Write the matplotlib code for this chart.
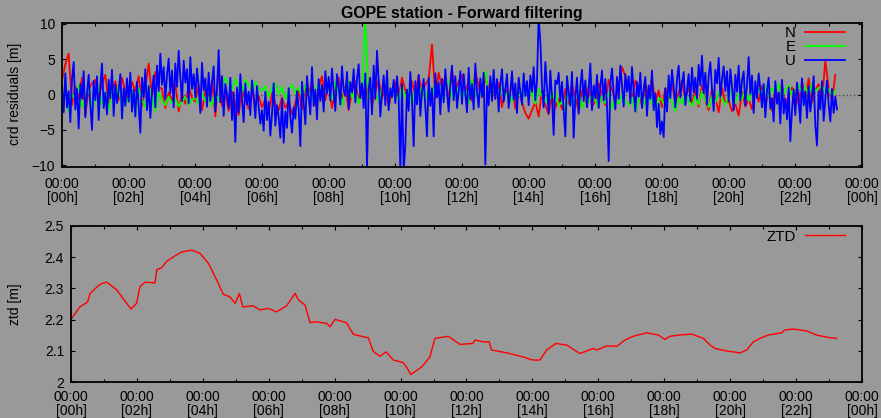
import numpy as np
import matplotlib.pyplot as plt
from matplotlib.ticker import MultipleLocator, FormatStrFormatter

# coordinate residuals [m]; U sampled every 0.05 h, N and E every 0.1 h (from 00h)
resid_u = [
    1.2, -2.5, 3.0, -1.8, 0.5, -3.9, 2.2, 4.6, -2.1, 0.8, -4.8, 1.5, -0.6, 3.3, -3.2, 0.2, 2.8, -1.4, -5.0, 1.9,
    -0.8, 2.6, -3.6, 1.1, 4.4, -1.9, 0.3, -2.8, 2.1, -0.5, 3.5, -3.0, 1.4, -1.2, 0.6, 2.9, -3.4, 0.9, -1.6, 2.3,
    -1.0, 3.1, -2.4, 0.7, -3.1, 1.8, -1.5, -5.4, 2.4, -0.3, 3.6, -2.2, 1.2, -3.3, 0.4, 2.7, -1.8, 4.1, 0.5, 5.8,
    1.4, 3.9, -0.6, 2.8, 5.1, 0.2, 3.4, -1.8, 4.4, 1.1, 6.2, 2.5, -0.9, 4.8, 1.7, 3.6, -1.2, 5.3, 0.8, 2.9,
    -0.4, 3.7, 1.2, -2.6, 4.5, 0.6, 2.3, -1.7, 3.1, -0.9, 1.8, 4.0, -2.4, 0.9, 6.3, -1.1, 2.6, -3.0, 1.5, 0.1,
    -1.9, 2.4, -3.6, 0.3, -6.7, 1.0, -2.5, 2.9, -0.8, -3.9, 1.6, -1.4, 0.4, -2.9, 2.0, -0.2, -3.3, 1.2, -1.7, -4.1,
    -2.2, -5.1, 0.4, -3.6, -1.0, -5.8, -2.7, 1.6, -4.4, -1.5, -3.2, -6.1, -0.6, -6.8, -2.4, -4.7, 0.9, -3.1, -5.4, -1.8,
    -3.4, 0.5, -2.0, -7.3, 1.8, -1.1, -4.2, 2.6, -0.3, -2.8, 3.9, -1.6, 0.7, -3.5, 2.2, -0.9, 1.4, -2.4, 3.3, 0.2,
    2.5, -0.8, 3.7, 0.4, -2.3, 2.9, 1.1, -1.4, 4.0, 0.6, -0.2, 3.2, -2.0, 1.8, 0.3, 3.6, -1.1, 2.2, 4.3, -0.5,
    1.6, -1.9, 3.0, -10.5, 0.8, 2.4, -2.8, 4.1, -0.6, 6.2, 1.9, -3.1, 0.2, 2.7, -1.5, 3.4, -2.2, 0.9, -0.4, 2.1,
    -1.2, 2.6, -0.5, -10.8, 1.5, -11.0, -7.1, 0.7, -2.3, 3.2, -0.8, -7.3, 1.9, -1.4, 2.8, -3.0, 0.4, 2.2, -1.7, -5.9,
    2.4, -1.6, 0.9, -5.9, 3.0, -0.4, 1.7, -2.8, 2.2, -1.1, 3.6, 0.3, -2.4, 1.4, 4.1, -0.8, 2.6, -1.9, 0.5, 3.3,
    -1.3, 2.9, 0.2, -2.5, 3.8, -0.7, 1.5, -2.1, 4.4, 0.4, -1.8, 2.3, -0.3, 3.1, -9.9, 1.2, -1.5, 2.6, -0.9, 3.5,
    -0.6, 2.2, -2.4, 1.4, 3.6, -1.0, 0.8, 2.9, -1.9, 0.3, 3.3, -0.7, 1.6, -2.6, 2.4, 0.5, -1.4, 3.0, -0.2, 1.9,
    -1.5, 2.7, 0.4, 3.9, -0.8, 2.1, 11.0, 7.5, 1.2, -1.8, 4.6, 0.9, -2.6, 3.4, -0.4, -5.7, 2.0, 1.5, 3.1, -0.9,
    1.8, -2.3, -5.9, 2.6, 0.3, -1.6, 3.2, -6.1, -0.4, 2.4, -2.7, 1.1, 3.5, -0.9, 2.0, -1.8, 0.7, 4.4, -2.2, 1.3,
    -0.5, 2.8, -1.9, 1.0, 3.4, -0.8, 2.2, -1.4, -9.4, 1.6, 3.7, 0.2, -2.1, 2.5, -0.6, 4.1, 1.3, -1.7, 2.9, 0.4,
    2.6, -1.2, 3.9, 0.5, -2.4, 1.8, -0.3, 3.1, -1.9, 0.8, 2.5, -3.0, 1.3, -0.6, 3.4, -2.2, 0.2, -4.6, -1.3, -5.6,
    -3.8, -6.0, 0.9, -2.4, 2.7, -0.5, 3.5, 1.1, -1.8, 2.2, 4.1, -0.4, 1.6, 3.2, -1.5, 0.7, 2.9, -0.9, 3.8, 0.3,
    2.4, -0.6, 4.2, 1.3, 5.5, 0.2, 3.1, -1.4, 2.7, 4.6, 0.8, -2.3, 3.5, 1.6, 5.2, -0.3, 2.2, 4.0, 0.5, 3.3,
    -1.0, 3.6, 1.2, -2.2, 2.8, 0.4, 4.1, -0.8, 2.0, 3.3, -1.5, 1.4, 5.3, 0.1, 2.7, -2.6, 1.9, -0.5, 3.0, 0.8,
    -1.8, 1.5, -3.2, 0.6, 2.4, -2.0, -0.5, -3.8, 1.9, -1.3, 0.3, -4.1, 2.1, -2.7, -0.6, -3.5, 1.0, -6.6, -2.2, 0.7,
    -2.9, 1.7, -0.8, -4.0, 2.3, -1.5, 0.4, -3.3, 1.2, -2.4, -0.2, 2.6, -4.4, -7.2, 0.5, -2.1, 1.9, -3.7, -0.6, 2.0,
    -1.4, -3.8, 0.8, -2.6, -0.3, -2.1,
]
resid_n = [
    2.0, 4.3, 5.8, -1.5, 1.2, -0.6, 2.4, -2.9, 0.8, 1.6,
    2.1, -0.4, 1.5, 2.8, -1.2, 0.6, 1.9, -0.8, 2.4, 0.3,
    -0.9, 1.8, 0.5, 2.6, -1.6, 0.9, 4.4, -0.3, 3.2, 1.1,
    0.8, -1.9, 0.3, -0.8, 1.5, -2.4, 0.1, -1.3, 1.2, -0.5,
    -1.0, 1.4, -2.2, 0.6, -0.4, 1.9, -3.1, 3.7, -1.6, 0.2,
    -2.3, 0.4, -1.4, -2.9, 0.9, -0.7, -2.0, 0.3, -1.5, -0.2,
    -1.8, -0.6, -2.6, 0.2, -1.3, -2.2, -0.4, -1.9, -0.9, -2.8,
    -1.2, 0.6, -2.1, 1.3, -0.4, 2.1, -1.5, 0.9, 2.6, -0.8,
    1.6, -1.9, 0.8, 2.4, -0.6, 1.2, -2.2, 0.5, 1.9, -1.0,
    1.1, -0.9, 2.3, -1.6, 0.4, 2.1, -0.5, 1.5, -1.8, 0.7,
    1.8, -0.4, 2.4, 0.6, -1.1, 1.9, -0.2, 2.7, 0.3, 1.4,
    2.2, 7.1, -0.5, 3.1, 1.0, 2.6, -0.8, 3.4, 0.7, 1.9,
    2.8, 0.3, 2.1, -0.9, 3.3, 1.2, -0.4, 2.5, 0.8, 1.6,
    -0.6, 1.7, -1.8, 0.9, -0.3, 1.4, -2.0, 0.4, -1.1, -2.6,
    -3.4, -2.2, -1.0, -3.1, 0.6, -1.4, -2.8, 0.2, -1.9, -0.6,
    -2.1, 0.8, -1.3, 1.5, -0.4, -2.3, 0.6, -1.0, 1.2, -1.7,
    -0.9, 1.6, 0.2, -1.5, 2.1, 0.7, -0.8, 1.3, 3.9, 2.6,
    1.1, -0.7, 2.0, 0.4, -1.6, 1.5, -0.3, 2.2, -1.1, 0.6,
    -1.8, 0.9, -0.5, 1.6, -1.2, 0.3, 2.0, -0.8, 1.1, -1.4,
    0.6, -1.7, 1.3, -0.9, -2.2, 0.8, -0.4, -2.5, 1.0, -1.3,
    -0.8, -2.4, -1.3, -3.0, 0.4, -1.7, -0.6, -2.1, 0.9, -1.0,
    1.2, -1.5, 0.3, -2.3, 0.8, -0.9, 1.6, -1.8, -0.2, 1.0,
    0.4, -1.4, 1.9, -0.6, 2.3, -1.1, 0.7, 1.5, -0.8, 4.8,
    0.9, -0.9, 2.8,
]
resid_e = [
    -1.2, 0.8, -2.4, 0.2, -0.9, 1.4, -1.8, -0.4, 0.9, -2.1,
    -0.3, 1.1, -1.5, 0.4, -2.2, 0.7, -0.8, 1.3, -1.9, -0.2,
    -1.1, 0.5, -2.6, 0.9, -0.7, -1.8, 1.2, -0.4, -2.3, 0.3,
    -0.8, -1.5, -0.3, -1.2, -0.6, -1.7, -0.9, -0.4, -1.4, -0.7,
    -0.5, -1.3, 0.2, -1.0, -0.3, -1.6, 0.4, -0.8, 1.2, 2.4,
    1.4, 0.6, 2.3, 1.0, 0.3, 2.1, 1.5, 0.4, 1.8, 0.9,
    0.5, 1.2, -0.3, 0.9, 1.6, 0.1, 1.1, -0.6, 0.7, 1.4,
    0.2, 1.0, -0.5, 1.3, 0.4, -0.9, 0.8, 1.5, -0.2, 0.6,
    1.1, -0.7, 1.7, 0.3, -1.5, 0.9, 1.9, -0.4, 0.6, -1.2,
    0.4, 10.5, -0.8, 1.2, 0.2, -1.1, 0.9, 1.6, -0.5, 0.7,
    0.1, -0.9, 1.3, -0.4, 0.6, -1.3, 0.8, -0.2, 1.1, -0.7,
    0.9, -0.3, 1.6, 0.2, -0.8, 1.2, 2.0, -0.5, 0.4, 1.0,
    -0.6, 0.7, -1.2, 2.1, 0.3, -0.9, 1.4, 3.3, -0.4, 0.5,
    0.8, -0.7, 1.1, -0.2, 0.5, -1.0, 0.9, 0.1, -0.6, 1.3,
    -0.4, 0.6, -1.3, 0.8, -0.2, -1.1, 0.3, -0.8, 0.5, -1.6,
    -0.9, -2.3, 0.2, -1.4, -0.5, 0.4, -1.9, -0.3, -1.1, 0.1,
    -0.8, -1.7, -0.2, -1.2, 0.3, -2.0, -0.6, -1.3, 0.1, -0.9,
    -1.5, -0.4, -2.4, -0.8, 0.2, -1.6, -0.3, -1.1, -2.1, -0.5,
    -0.7, -1.9, 0.1, -1.0, -2.3, -0.4, -1.3, 0.3, -0.9, -1.6,
    -0.2, -1.4, 0.5, -0.8, -1.8, -0.1, -1.1, 0.4, -0.6, -1.5,
    -0.3, 0.6, -1.2, 0.2, -0.7, 1.0, -0.9, 0.4, -0.2, 0.8,
    0.3, 1.2, -0.4, 0.9, 0.1, 1.5, -0.6, 0.7, 1.3, -0.1,
    0.6, 1.4, 0.2, 1.1, -0.3, 1.6, 0.5, 0.9, 1.3, 0.2,
    0.8, -0.2, 0.6,
]

# zenith total delay [m] at hour of day
ztd_hour = [0.02, 0.27, 0.5, 0.58, 0.88, 1.08, 1.39, 1.69, 1.82, 1.99, 2.09, 2.25, 2.55, 2.6,
            2.75, 2.9, 3.16, 3.36, 3.66, 3.91, 4.17, 4.42, 4.62, 4.82, 4.98, 5.11, 5.21, 5.53,
            5.73, 5.99, 6.24, 6.54, 6.8, 6.9, 7.1, 7.25, 7.45, 7.76, 7.86, 8.01, 8.36, 8.57,
            9.02, 9.17, 9.37, 9.56, 9.78, 10.08, 10.18, 10.31, 10.64, 10.89, 11.04, 11.45,
            11.8, 12.19, 12.26, 12.51, 12.69, 12.76, 13.22, 13.72, 14.01, 14.23, 14.43, 14.71,
            15.04, 15.44, 15.85, 15.95, 16.25, 16.56, 16.81, 17.06, 17.47, 17.82, 18.02, 18.17,
            18.48, 18.83, 19.19, 19.39, 19.54, 19.9, 20.3, 20.5, 20.7, 20.9, 21.16, 21.56,
            21.66, 21.91, 22.32, 22.62, 22.98, 23.23]
ztd_val = [2.204, 2.241, 2.256, 2.284, 2.313, 2.32, 2.295, 2.252, 2.234, 2.252, 2.305, 2.32,
           2.317, 2.359, 2.366, 2.386, 2.404, 2.416, 2.422, 2.412, 2.38, 2.327, 2.281, 2.273,
           2.252, 2.284, 2.241, 2.244, 2.231, 2.236, 2.225, 2.244, 2.284, 2.263, 2.247, 2.191,
           2.193, 2.188, 2.177, 2.201, 2.19, 2.153, 2.142, 2.099, 2.083, 2.097, 2.071, 2.063,
           2.049, 2.025, 2.049, 2.081, 2.14, 2.147, 2.121, 2.124, 2.135, 2.129, 2.129, 2.103,
           2.094, 2.081, 2.071, 2.071, 2.103, 2.124, 2.119, 2.092, 2.108, 2.103, 2.116, 2.115,
           2.135, 2.147, 2.158, 2.151, 2.137, 2.147, 2.151, 2.154, 2.14, 2.119, 2.108, 2.1,
           2.094, 2.103, 2.129, 2.14, 2.151, 2.158, 2.167, 2.17, 2.164, 2.151, 2.143, 2.14]

hour_ticks = list(range(0, 25, 2))
hour_labels = ['00:00\n[%02dh]' % (h % 24) for h in hour_ticks]

bg = '#999999'
plt.rcParams['font.family'] = ['Liberation Sans', 'DejaVu Sans']
plt.rcParams['font.size'] = 10.0

t_u = np.arange(len(resid_u)) * 0.05
t_n = np.arange(len(resid_n)) * 0.1
t_e = np.arange(len(resid_e)) * 0.1

fig = plt.figure(figsize=(8.81, 4.18), dpi=100, facecolor=bg)
ax1 = fig.add_axes([62 / 881, 1 - 166.7 / 418, 800 / 881, 144.2 / 418], facecolor=bg)
ax2 = fig.add_axes([71 / 881, 1 - 382.3 / 418, 791 / 881, 156.6 / 418], facecolor=bg)

ax1.axhline(0, color='#4d4d4d', ls=':', lw=1.0, zorder=1)
ax1.plot(t_n, resid_n, color='#ff0000', lw=1.3, label='N')
ax1.plot(t_e, resid_e, color='#00ff00', lw=1.3, label='E')
ax1.plot(t_u, resid_u, color='#0000ff', lw=1.3, label='U')
ax1.set_ylim(-10.2, 10.2)
ax1.set_yticks([-10, -5, 0, 5, 10])

ax2.plot(ztd_hour, ztd_val, color='#ff0000', lw=1.0, label='ZTD')
ax2.set_ylim(2.0, 2.5)
ax2.set_yticks([2.0, 2.1, 2.2, 2.3, 2.4, 2.5])
ax2.yaxis.set_major_formatter(FormatStrFormatter('%g'))

for ax in (ax1, ax2):
    ax.set_xlim(0, 24)
    ax.set_xticks(hour_ticks)
    ax.set_xticklabels(hour_labels, linespacing=1.0)
    ax.xaxis.set_minor_locator(MultipleLocator(1))
    ax.tick_params(which='both', direction='in', top=True, right=True, width=0.8, colors='black')
    ax.tick_params(which='major', length=3.0)
    ax.tick_params(which='minor', length=2.0)
    ax.tick_params(axis='y', pad=5)
    for s in ax.spines.values():
        s.set_linewidth(1.3)
    ax.legend(loc='upper right', bbox_to_anchor=(0.979, 0.975), frameon=False,
              markerfirst=False, handlelength=2.7, handletextpad=0.6,
              labelspacing=0.0, borderaxespad=0, borderpad=0, fontsize=10.8)

ax1.tick_params(axis='x', pad=7.5)
ax2.tick_params(axis='x', pad=5.5)

fig.text(462 / 881, 1 - 13.5 / 418, 'GOPE station - Forward filtering',
         ha='center', va='center', fontweight='bold', fontsize=11.4)
fig.text(15 / 881, 1 - 94 / 418, 'crd residuals [m]', rotation=90, ha='center', va='center')
fig.text(15 / 881, 1 - 304 / 418, 'ztd [m]', rotation=90, ha='center', va='center')

fig.savefig('out.png', dpi=100, facecolor=bg)
